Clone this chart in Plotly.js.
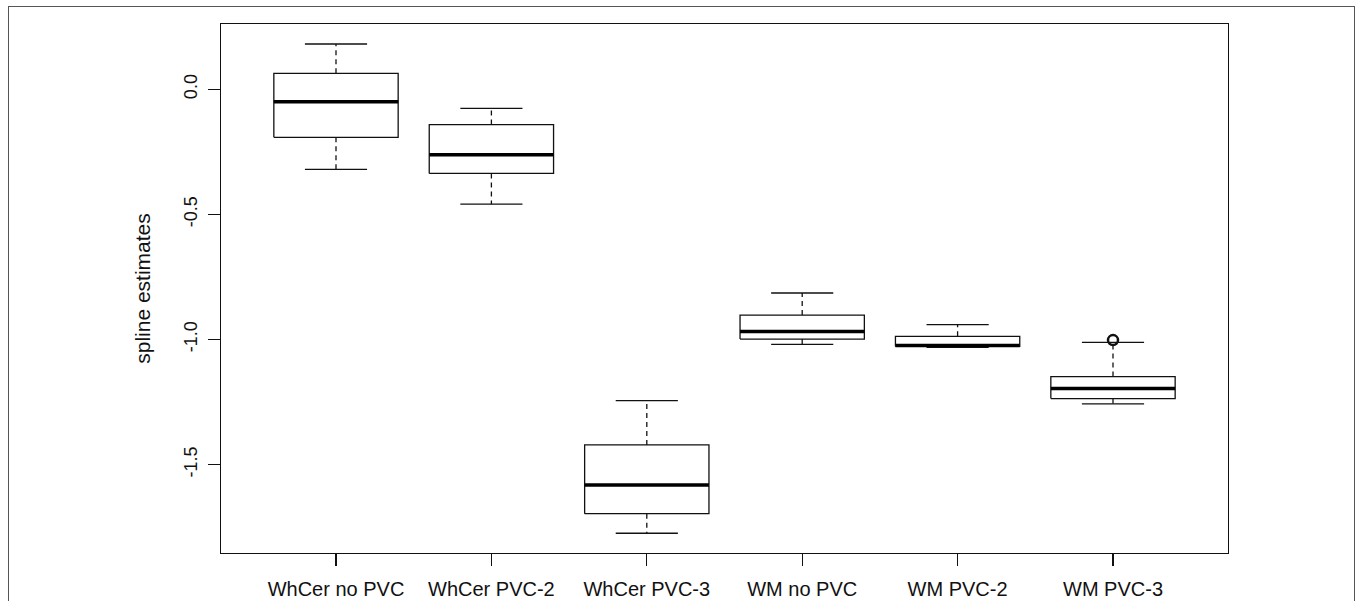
<!DOCTYPE html>
<html>
<head>
<meta charset="utf-8">
<script src="https://cdn.plot.ly/plotly-3.0.1.min.js"></script>
<style>
  html, body { margin: 0; padding: 0; background: #fff; overflow: hidden; }
  #wrap { position: relative; width: 1360px; height: 601px; }
  #chart { position: absolute; left: 0; top: 0; width: 1360px; height: 601px; }
  #frame { position: absolute; left: 8px; top: 6px; width: 1347px; height: 640px;
           border: 1.5px solid #555; box-sizing: border-box; pointer-events: none; z-index: 5; }
</style>
</head>
<body>
<div id="wrap">
  <div id="chart"></div>
  <div id="frame"></div>
</div>
<script>
// ---- data ----
const categories = ["WhCer no PVC", "WhCer PVC-2", "WhCer PVC-3", "WM no PVC", "WM PVC-2", "WM PVC-3"];
const upperWhisker = [0.181, -0.076, -1.244, -0.814, -0.940, -1.011];
const q3Values     = [0.064, -0.141, -1.421, -0.902, -0.987, -1.148];
const medianValues = [-0.050, -0.262, -1.581, -0.968, -1.024, -1.196];
const q1Values     = [-0.192, -0.336, -1.696, -0.998, -1.027, -1.236];
const lowerWhisker = [-0.320, -0.459, -1.774, -1.019, -1.031, -1.257];
const outlierGroup = [6];
const outlierValue = [-1.002];
const yTickValues = [-1.5, -1.0, -0.5, 0.0];
const yTickLabels = ["-1.5", "-1.0", "-0.5", "0.0"];
const yTitle = "spline estimates";

// ---- geometry helpers (R boxplot defaults: boxwex 0.8, staplewex 0.5) ----
const halfBox = 0.4;
const halfCap = 0.2;
const pos = categories.map((c, i) => i + 1);

const boxX = [], boxY = [], medX = [], medY = [], whX = [], whY = [], capX = [], capY = [];
pos.forEach((p, i) => {
  boxX.push(p - halfBox, p + halfBox, p + halfBox, p - halfBox, p - halfBox, null);
  boxY.push(q1Values[i], q1Values[i], q3Values[i], q3Values[i], q1Values[i], null);
  medX.push(p - halfBox, p + halfBox, null);
  medY.push(medianValues[i], medianValues[i], null);
  whX.push(p, p, null, p, p, null);
  whY.push(q3Values[i], upperWhisker[i], null, q1Values[i], lowerWhisker[i], null);
  capX.push(p - halfCap, p + halfCap, null, p - halfCap, p + halfCap, null);
  capY.push(upperWhisker[i], upperWhisker[i], null, lowerWhisker[i], lowerWhisker[i], null);
});

const black = "#111";
const traces = [
  { x: whX, y: whY, mode: "lines", line: { color: black, width: 1.3, dash: "5px,4px" }, hoverinfo: "skip" },
  { x: capX, y: capY, mode: "lines", line: { color: black, width: 1.3 }, hoverinfo: "skip" },
  { x: boxX, y: boxY, mode: "lines", line: { color: black, width: 1.3 }, hoverinfo: "skip" },
  { x: medX, y: medY, mode: "lines", line: { color: "#000", width: 3.5 }, hoverinfo: "skip" },
  { x: outlierGroup, y: outlierValue, mode: "markers",
    marker: { symbol: "circle-open", size: 10, color: black, line: { width: 2.5, color: black } }, hoverinfo: "skip" }
];

const fontFam = "Liberation Sans, Arial, Helvetica, sans-serif";
const layout = {
  width: 1360, height: 601,
  margin: { l: 221, r: 132, t: 24, b: 48, pad: 0 },
  paper_bgcolor: "#fff", plot_bgcolor: "#fff",
  showlegend: false,
  font: { family: fontFam, size: 19, color: "#111" },
  xaxis: {
    range: [0.26, 6.74], tickmode: "array", tickvals: pos, ticktext: categories,
    showgrid: false, zeroline: false, showline: true, mirror: true,
    linecolor: "#111", linewidth: 1.3,
    ticks: "outside", ticklen: 12, tickwidth: 1.3, tickcolor: "#111",
    tickfont: { family: fontFam, size: 20, color: "#111" }, ticklabelstandoff: 6
  },
  yaxis: {
    range: [-1.853, 0.261], tickmode: "array", tickvals: yTickValues, ticktext: yTickLabels,
    showgrid: false, zeroline: false, showline: true, mirror: true,
    linecolor: "#111", linewidth: 1.3,
    ticks: "outside", ticklen: 12, tickwidth: 1.3, tickcolor: "#111",
    tickangle: -90, tickfont: { family: fontFam, size: 18, color: "#111" }, ticklabelstandoff: 4,
    title: { text: yTitle, font: { family: fontFam, size: 21, color: "#111" }, standoff: 24 }
  }
};

Plotly.newPlot("chart", traces, layout, { staticPlot: true, displayModeBar: false });
</script>
</body>
</html>
